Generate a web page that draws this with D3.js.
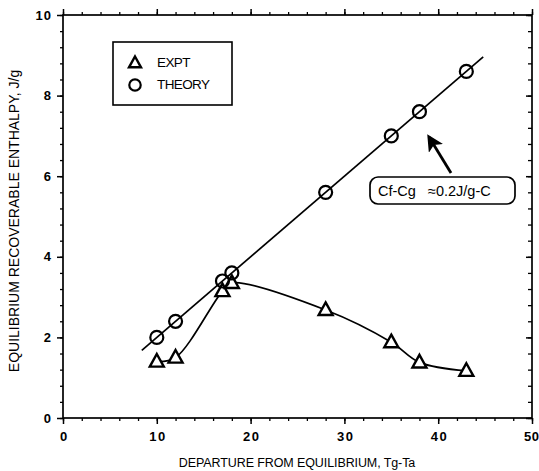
<!DOCTYPE html>
<html>
<head>
<meta charset="utf-8">
<script src="https://cdn.jsdelivr.net/npm/d3@7"></script>
<style>
  html, body { margin: 0; padding: 0; background: #fff; }
  svg { display: block; }
  text { font-family: "Liberation Sans", Arial, Helvetica, sans-serif; fill: #000; }
</style>
</head>
<body>
<svg id="chart" width="539" height="471"></svg>
<script>
// Departure from equilibrium (Tg-Ta) for each sample
const departure = [10, 12, 17, 18, 28, 35, 38, 43];
// Measured recoverable enthalpy, J/g
const exptValues = [1.4, 1.5, 3.15, 3.35, 2.68, 1.88, 1.38, 1.17];
// Predicted recoverable enthalpy, J/g
const theoryValues = [2.0, 2.4, 3.4, 3.6, 5.6, 7.0, 7.6, 8.6];
// Extent of the fitted theory line (slope Cf-Cg = 0.2 J/g-C)
const theoryLineX = [8.4, 44.8];
const theorySlope = 0.2;
// Axis ticks
const xTicks = [0, 10, 20, 30, 40, 50];
const yTicks = [0, 2, 4, 6, 8, 10];
const legendLabels = ["EXPT", "THEORY"];
const xTitle = "DEPARTURE FROM EQUILIBRIUM, Tg-Ta";
const yTitle = "EQUILIBRIUM RECOVERABLE ENTHALPY, J/g";
const noteText = "Cf-Cg   \u22480.2J/g-C";

const svg = d3.select("#chart");
const plotL = 63, plotR = 532, plotT = 15, plotB = 418;

const x = d3.scaleLinear().domain([0, 50]).range([plotL, plotR]);
const y = d3.scaleLinear().domain([0, 10]).range([plotB, plotT]);

const ink = "#000";

// Frame
svg.append("rect")
  .attr("x", plotL).attr("y", plotT)
  .attr("width", plotR - plotL).attr("height", plotB - plotT)
  .attr("fill", "none").attr("stroke", ink).attr("stroke-width", 1.7);

// Minor tick positions
const xMinor = d3.range(0, 50.01, 2);
const yMinor = d3.range(0, 10.01, 0.4);

// Bottom axis: outward ticks with labels
const bottomAxis = d3.axisBottom(x).tickValues(xTicks).tickSize(6).tickPadding(8)
  .tickFormat(d3.format("d"));
const gb = svg.append("g").attr("transform", `translate(0,${plotB})`).call(bottomAxis);
gb.select(".domain").remove();
gb.selectAll("line").attr("stroke", ink).attr("stroke-width", 1.5);
gb.selectAll("text")
  .style("font-size", "13px").style("font-weight", "bold")
  .style("letter-spacing", "1.5px")
  .attr("dx", "0.75px")
  .attr("font-family", "Liberation Sans, Arial, sans-serif");
// the last label sits at the window edge; keep it inside
gb.selectAll("text").filter(d => d === 50)
  .attr("text-anchor", "end").attr("dx", 7)
  .style("letter-spacing", "0.5px");
svg.append("g").attr("transform", `translate(0,${plotB})`)
  .call(d3.axisBottom(x).tickValues(xMinor).tickSize(3).tickFormat(""))
  .call(g => g.select(".domain").remove())
  .selectAll("line").attr("stroke", ink).attr("stroke-width", 1.3);

// Left axis: outward ticks with labels
const leftAxis = d3.axisLeft(y).tickValues(yTicks).tickSize(6).tickPadding(5)
  .tickFormat(d3.format("d"));
const gl = svg.append("g").attr("transform", `translate(${plotL},0)`).call(leftAxis);
gl.select(".domain").remove();
gl.selectAll("line").attr("stroke", ink).attr("stroke-width", 1.5);
gl.selectAll("text")
  .style("font-size", "13px").style("font-weight", "bold")
  .style("letter-spacing", "1px")
  .attr("font-family", "Liberation Sans, Arial, sans-serif");
svg.append("g").attr("transform", `translate(${plotL},0)`)
  .call(d3.axisLeft(y).tickValues(yMinor).tickSize(3).tickFormat(""))
  .call(g => g.select(".domain").remove())
  .selectAll("line").attr("stroke", ink).attr("stroke-width", 1.3);

// Top axis: ticks pointing up
svg.append("g").attr("transform", `translate(0,${plotT})`)
  .call(d3.axisTop(x).tickValues(xTicks).tickSize(6).tickFormat(""))
  .call(g => g.select(".domain").remove())
  .selectAll("line").attr("stroke", ink).attr("stroke-width", 1.5);
svg.append("g").attr("transform", `translate(0,${plotT})`)
  .call(d3.axisTop(x).tickValues(xMinor).tickSize(3).tickFormat(""))
  .call(g => g.select(".domain").remove())
  .selectAll("line").attr("stroke", ink).attr("stroke-width", 1.3);

// Right axis: ticks pointing into the plot
svg.append("g").attr("transform", `translate(${plotR},0)`)
  .call(d3.axisLeft(y).tickValues(yTicks).tickSize(6).tickFormat(""))
  .call(g => g.select(".domain").remove())
  .selectAll("line").attr("stroke", ink).attr("stroke-width", 1.5);
svg.append("g").attr("transform", `translate(${plotR},0)`)
  .call(d3.axisLeft(y).tickValues(yMinor).tickSize(4).tickFormat(""))
  .call(g => g.select(".domain").remove())
  .selectAll("line").attr("stroke", ink).attr("stroke-width", 1.3);

// Axis titles
svg.append("text")
  .attr("x", 297).attr("y", 467)
  .attr("text-anchor", "middle")
  .style("font-size", "12.5px")
  .style("letter-spacing", "-0.1px")
  .text(xTitle);
svg.append("text")
  .attr("transform", `translate(19,221) rotate(-90)`)
  .attr("text-anchor", "middle")
  .style("font-size", "14px")
  .text(yTitle);

// Theory line
const theoryLine = d3.line().x(d => x(d)).y(d => y(theorySlope * d));
svg.append("path")
  .attr("d", theoryLine(theoryLineX))
  .attr("fill", "none").attr("stroke", ink).attr("stroke-width", 1.7);

// Experimental curve
const exptPts = departure.map((d, i) => [d, exptValues[i]]);
const exptLine = d3.line().x(d => x(d[0])).y(d => y(d[1])).curve(d3.curveCatmullRom.alpha(0.5));
svg.append("path")
  .attr("d", exptLine(exptPts))
  .attr("fill", "none").attr("stroke", ink).attr("stroke-width", 1.7);

// Symbols
const triPath = s => {
  const h = s * 0.9;
  return `M0,${-h * 0.6}L${s / 2},${h * 0.4}L${-s / 2},${h * 0.4}Z`;
};
svg.append("g").selectAll("path.expt")
  .data(exptPts).join("path")
  .attr("class", "expt")
  .attr("transform", d => `translate(${x(d[0])},${y(d[1])})`)
  .attr("d", triPath(14))
  .attr("fill", "#fff").attr("stroke", ink).attr("stroke-width", 2.4)
  .attr("stroke-linejoin", "miter");

svg.append("g").selectAll("circle.theory")
  .data(departure.map((d, i) => [d, theoryValues[i]])).join("circle")
  .attr("class", "theory")
  .attr("cx", d => x(d[0])).attr("cy", d => y(d[1]))
  .attr("r", 6.5)
  .attr("fill", "none").attr("stroke", ink).attr("stroke-width", 2.2);

// Legend
const lg = svg.append("g");
lg.append("rect")
  .attr("x", 113).attr("y", 42).attr("width", 119).attr("height", 63)
  .attr("fill", "#fff").attr("stroke", ink).attr("stroke-width", 1.6);
lg.append("path")
  .attr("transform", "translate(135,63)")
  .attr("d", triPath(12))
  .attr("fill", "#fff").attr("stroke", ink).attr("stroke-width", 2.4);
lg.append("circle")
  .attr("cx", 135).attr("cy", 85).attr("r", 5.7)
  .attr("fill", "none").attr("stroke", ink).attr("stroke-width", 2.2);
lg.selectAll("text.leg")
  .data(legendLabels).join("text")
  .attr("class", "leg")
  .attr("x", 157).attr("y", (d, i) => 67 + i * 22)
  .style("font-size", "13.5px")
  .style("letter-spacing", "-0.6px")
  .text(d => d);

// Slope annotation with arrow
svg.append("defs").append("marker")
  .attr("id", "arrowHead")
  .attr("viewBox", "0 0 10 10").attr("refX", 8).attr("refY", 5)
  .attr("markerWidth", 6).attr("markerHeight", 6)
  .attr("markerUnits", "strokeWidth")
  .attr("orient", "auto")
  .append("path").attr("d", "M0,0L10,5L0,10L2.5,5Z").attr("fill", ink);
svg.append("line")
  .attr("x1", 451).attr("y1", 173).attr("x2", 429).attr("y2", 137)
  .attr("stroke", ink).attr("stroke-width", 2.8)
  .attr("marker-end", "url(#arrowHead)");
svg.append("rect")
  .attr("x", 370).attr("y", 177).attr("width", 145).attr("height", 27)
  .attr("rx", 8).attr("ry", 8)
  .attr("fill", "#fff").attr("stroke", ink).attr("stroke-width", 1.7);
svg.append("text")
  .attr("x", 378).attr("y", 196)
  .style("font-size", "14.5px")
  .style("white-space", "pre")
  .text(noteText);
</script>
</body>
</html>
